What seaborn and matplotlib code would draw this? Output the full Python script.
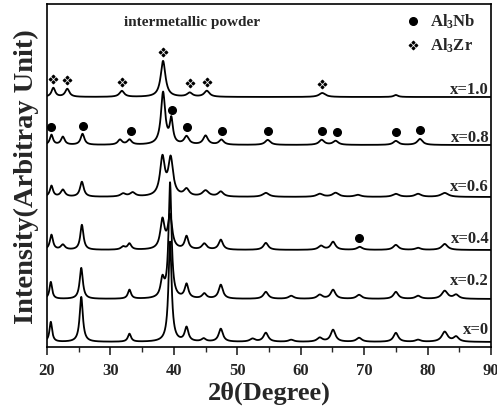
import numpy as np
import pandas as pd
import matplotlib
matplotlib.use("Agg")
import matplotlib.pyplot as plt
import seaborn as sns
from matplotlib.path import Path
from matplotlib.ticker import MultipleLocator

# ---------------- data ----------------
sample_labels = ["x=0", "x=0.2", "x=0.4", "x=0.6", "x=0.8", "x=1.0"]
baselines = [5, 48, 97, 150, 202, 250]          # vertical offset of each pattern

x0_pos = [20.6, 25.4, 33.0, 39.4, 42.0, 44.7, 47.4, 52.4, 54.5, 58.5, 63.0, 65.1, 69.2, 75.0, 78.5, 82.7, 84.5]
x0_h   = [20, 45, 8, 100, 14, 3, 13, 3, 9, 2, 4, 12, 4, 9, 2, 10, 5]
x0_w   = [0.25, 0.3, 0.3, 0.3, 0.35, 0.4, 0.4, 0.5, 0.45, 0.5, 0.5, 0.45, 0.5, 0.45, 0.5, 0.55, 0.5]

x02_pos = [20.6, 25.4, 33.0, 38.2, 39.4, 42.0, 44.8, 47.4, 54.5, 58.5, 63.0, 65.1, 69.2, 75.0, 78.5, 82.7, 84.5]
x02_h   = [17, 31, 9, 18, 115, 14, 5, 14, 7, 3, 4, 9, 4, 7, 3, 8, 4]
x02_w   = [0.25, 0.3, 0.3, 0.35, 0.28, 0.35, 0.4, 0.4, 0.45, 0.5, 0.5, 0.45, 0.5, 0.45, 0.5, 0.55, 0.5]

x04_pos = [20.7, 22.5, 25.5, 32.0, 33.0, 38.2, 39.4, 42.0, 44.8, 47.4, 54.5, 63.2, 65.1, 69.3, 75.0, 78.5, 82.7]
x04_h   = [15, 5, 25, 3, 6, 29, 33, 13, 6, 10, 7, 4, 8, 3, 5, 2, 6]
x04_w   = [0.3, 0.4, 0.3, 0.4, 0.35, 0.4, 0.4, 0.35, 0.45, 0.4, 0.45, 0.5, 0.45, 0.5, 0.5, 0.5, 0.55]

x06_pos = [20.7, 22.5, 25.5, 32.0, 33.5, 38.2, 39.5, 42.0, 45.0, 47.4, 54.5, 63.0, 65.5, 69.0, 75.0, 78.5, 82.7]
x06_h   = [11, 7, 15, 3, 4, 38, 37, 7, 6, 5, 4, 3, 4, 2, 3, 3, 4]
x06_w   = [0.3, 0.4, 0.35, 0.5, 0.5, 0.45, 0.45, 0.5, 0.6, 0.5, 0.6, 0.6, 0.6, 0.6, 0.6, 0.6, 0.7]

x08_pos = [20.7, 22.5, 25.6, 31.5, 33.0, 38.3, 39.6, 42.0, 45.0, 47.5, 54.8, 63.3, 65.5, 75.0, 78.8]
x08_h   = [10, 8, 11, 5, 5, 52, 24, 8, 9, 5, 5, 5, 4, 4, 6]
x08_w   = [0.3, 0.35, 0.35, 0.4, 0.4, 0.4, 0.3, 0.45, 0.45, 0.45, 0.5, 0.5, 0.5, 0.5, 0.5]

x10_pos = [21.0, 23.2, 31.8, 38.3, 42.5, 45.2, 63.4, 75.0]
x10_h   = [9, 8, 6, 36, 4, 6, 4, 2]
x10_w   = [0.35, 0.4, 0.45, 0.45, 0.5, 0.5, 0.6, 0.4]

al3zr_on_x10 = [21.0, 23.2, 31.8, 38.3, 42.5, 45.2, 63.4]
al3nb_on_x08 = [20.6, 25.7, 33.2, 39.7, 42.1, 47.6, 54.9, 63.4, 65.7, 75.0, 78.8]
al3nb_on_x04 = [69.2]

x_ticks = [20, 30, 40, 50, 60, 70, 80, 90]

peak_tables = [
    (x0_pos, x0_h, x0_w), (x02_pos, x02_h, x02_w), (x04_pos, x04_h, x04_w),
    (x06_pos, x06_h, x06_w), (x08_pos, x08_h, x08_w), (x10_pos, x10_h, x10_w),
]

# ---------------- build profiles ----------------
two_theta = np.linspace(20, 90, 2801)

def profile(xs, pos, h, w, base):
    xs = np.asarray(xs, dtype=float)
    y = np.full_like(xs, float(base))
    for p, hh, ww in zip(pos, h, w):
        y += hh / (1.0 + ((xs - p) / ww) ** 2)
    return y

frames = []
for lab, base, (pos, h, w) in zip(sample_labels, baselines, peak_tables):
    frames.append(pd.DataFrame({"two_theta": two_theta,
                                "intensity": profile(two_theta, pos, h, w, base),
                                "sample": lab}))
df = pd.concat(frames, ignore_index=True)

# ---------------- style ----------------
sns.set_style("ticks")
plt.rcParams["font.family"] = ["Liberation Serif", "DejaVu Serif"]
plt.rcParams["font.weight"] = "bold"
plt.rcParams["mathtext.default"] = "regular"

fig = plt.figure(figsize=(4.97, 4.10), dpi=100)
ax = fig.add_axes([47 / 497, (410 - 348) / 410, 444 / 497, 343 / 410])

sns.lineplot(data=df, x="two_theta", y="intensity", hue="sample",
             palette={s: "black" for s in sample_labels}, legend=False,
             estimator=None, sort=False, linewidth=1.3, ax=ax)

ax.set_xlim(20, 90)
ax.set_ylim(0, 343)
ax.set_xticks(x_ticks)
ax.set_xticklabels([str(t) for t in x_ticks], fontsize=12, fontweight="bold")
ax.xaxis.set_minor_locator(MultipleLocator(5))
ax.tick_params(axis="x", which="major", direction="out", length=6, width=1.2, pad=5)
ax.tick_params(axis="x", which="minor", direction="out", length=3.5, width=1.0)
ax.set_yticks([])
for sp in ax.spines.values():
    sp.set_visible(True)
    sp.set_linewidth(1.2)
    sp.set_color("black")

ax.set_xlabel("2θ(Degree)", fontsize=19, fontweight="bold", labelpad=2)
ax.set_ylabel("Intensity(Arbitray Unit)", fontsize=20.5, fontweight="bold", labelpad=6)

# custom Al3Zr marker: four small diamonds in a cross
verts, codes = [], []
r = 0.5
for cx, cy in [(0, 1.05), (0, -1.05), (1.05, 0), (-1.05, 0)]:
    verts += [(cx, cy + r), (cx + r, cy), (cx, cy - r), (cx - r, cy), (cx, cy + r)]
    codes += [Path.MOVETO, Path.LINETO, Path.LINETO, Path.LINETO, Path.CLOSEPOLY]
zr_marker = Path(verts, codes)

# peak markers placed on top of the curves
y10 = profile(al3zr_on_x10, x10_pos, x10_h, x10_w, baselines[5]) + 9
ax.plot(al3zr_on_x10, y10, linestyle="none", marker=zr_marker, markersize=6,
        color="black")
y08 = profile(al3nb_on_x08, x08_pos, x08_h, x08_w, baselines[4]) + 9
ax.plot(al3nb_on_x08, y08, linestyle="none", marker="o", markersize=5.5, color="black")
y04 = profile(al3nb_on_x04, x04_pos, x04_h, x04_w, baselines[2]) + 9
ax.plot(al3nb_on_x04, y04, linestyle="none", marker="o", markersize=5.5, color="black")

# sample labels at the right
label_offsets = [13, 19, 12, 11, 8, 8]
for lab, base, off in zip(sample_labels, baselines, label_offsets):
    ax.text(89.7, base + off, lab, ha="right", va="center",
            fontsize=12, fontweight="bold")

# title text and legend
ax.text(0.173, 0.948, "intermetallic powder", transform=ax.transAxes,
        ha="left", va="center", fontsize=11, fontweight="bold")
ax.plot([0.824], [0.950], transform=ax.transAxes, marker="o", markersize=5.5,
        color="black", linestyle="none")
ax.plot([0.824], [0.880], transform=ax.transAxes, marker=zr_marker, markersize=6,
        color="black", linestyle="none")
ax.text(0.863, 0.952, r"$\mathregular{Al_3Nb}$", transform=ax.transAxes,
        ha="left", va="center", fontsize=12, fontweight="bold")
ax.text(0.863, 0.882, r"$\mathregular{Al_3Zr}$", transform=ax.transAxes,
        ha="left", va="center", fontsize=12, fontweight="bold")

fig.savefig("out.png", dpi=100)
